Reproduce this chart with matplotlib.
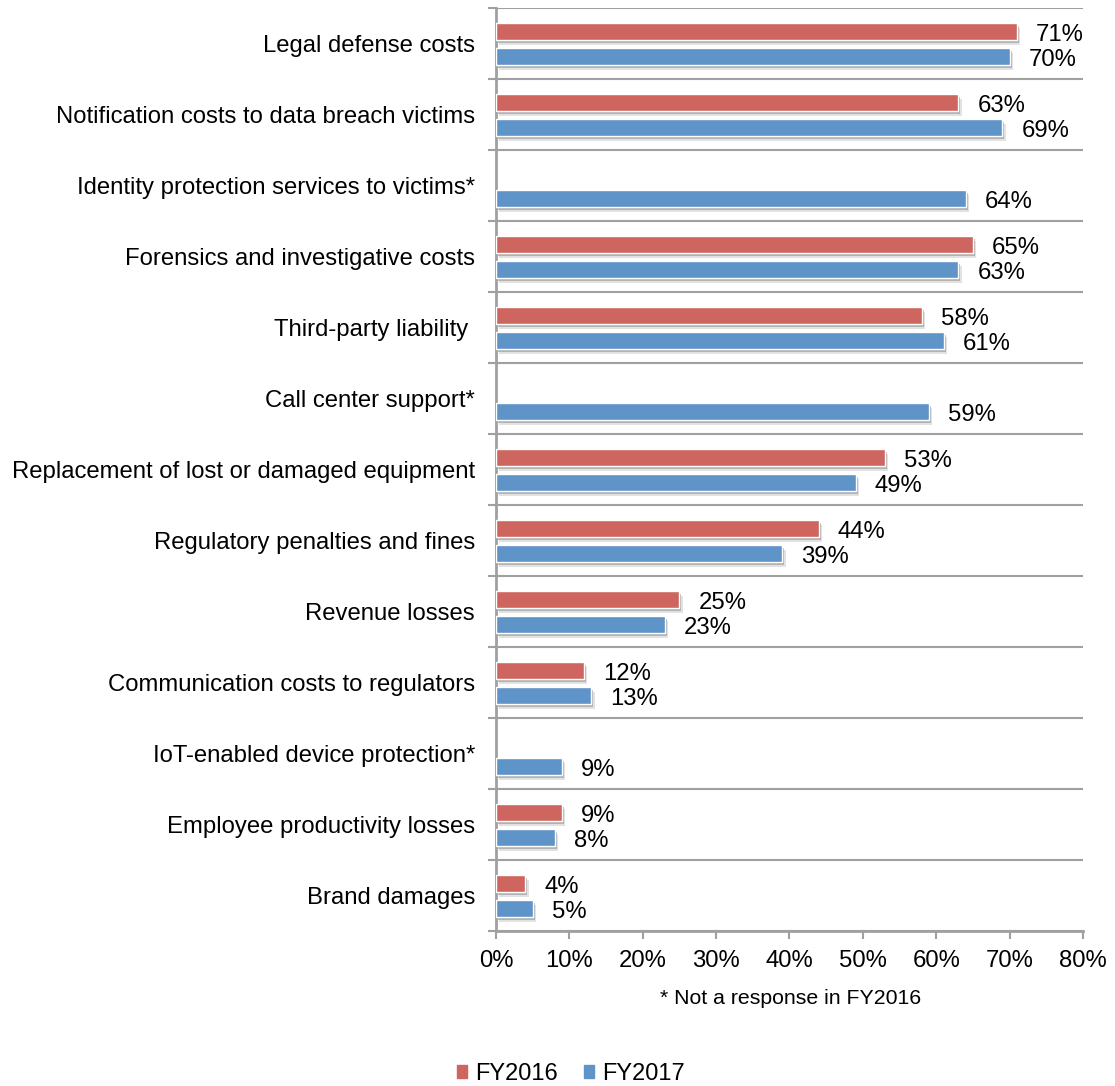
import matplotlib
matplotlib.use("Agg")
import matplotlib.pyplot as plt
import matplotlib.patheffects as pe
import numpy as np

plt.rcParams["font.family"] = ["Liberation Sans", "DejaVu Sans"]

categories = [
    "Legal defense costs",
    "Notification costs to data breach victims",
    "Identity protection services to victims*",
    "Forensics and investigative costs",
    "Third-party liability ",
    "Call center support*",
    "Replacement of lost or damaged equipment",
    "Regulatory penalties and fines",
    "Revenue losses",
    "Communication costs to regulators",
    "IoT-enabled device protection*",
    "Employee productivity losses",
    "Brand damages",
]
fy2016 = [71, 63, None, 65, 58, None, 53, 44, 25, 12, None, 9, 4]
fy2017 = [70, 69, 64, 63, 61, 59, 49, 39, 23, 13, 9, 8, 5]
xticks = [0, 10, 20, 30, 40, 50, 60, 70, 80]

RED = "#CE655F"
BLUE = "#5F94C9"
GRID = "#A0A0A0"
FS = 17.2

fig = plt.figure(figsize=(11.15, 10.86), dpi=100)
ax = fig.add_axes([0.4448, 0.1427, 0.5265, 0.8499])

y = np.arange(len(categories))
h = 0.24
off = 0.176
# two stacked soft shadows give the bars their drop-shadow look
shadow = [pe.SimplePatchShadow(offset=(1.5, -2.5), shadow_rgbFace="#7a7a7a", alpha=0.5),
          pe.SimplePatchShadow(offset=(2.5, -3.8), shadow_rgbFace="#a0a0a0", alpha=0.3),
          pe.Normal()]

for i, (a, b) in enumerate(zip(fy2016, fy2017)):
    if a is not None:
        ax.barh(y[i] - off, a, height=h, color=RED, edgecolor="white", linewidth=1,
                path_effects=shadow, zorder=3)
        ax.text(a + 2.6, y[i] - off + 0.05, f"{a}%", va="center", ha="left", fontsize=FS)
    ax.barh(y[i] + off, b, height=h, color=BLUE, edgecolor="white", linewidth=1,
            path_effects=shadow, zorder=3)
    ax.text(b + 2.6, y[i] + off + 0.06, f"{b}%", va="center", ha="left", fontsize=FS)

ax.set_xlim(0, 80)
ax.set_ylim(len(categories) - 0.5, -0.5)
ax.set_xticks(xticks)
ax.set_xticklabels([f"{t}%" for t in xticks], fontsize=FS)
ax.set_yticks(y)
ax.set_yticklabels(categories, fontsize=FS)
ax.set_yticks(np.arange(len(categories) + 1) - 0.5, minor=True)

ax.tick_params(axis="y", which="major", length=0, pad=15)
ax.tick_params(axis="y", which="minor", length=6, width=1.5, color=GRID, direction="out")
ax.tick_params(axis="x", length=6, width=1.5, color=GRID, direction="out", pad=8)
ax.grid(axis="y", which="minor", color=GRID, linewidth=1.5, zorder=0)

for s in ["top", "right"]:
    ax.spines[s].set_visible(False)
for s in ["left", "bottom"]:
    ax.spines[s].set_color(GRID)
    ax.spines[s].set_linewidth(2)

fig.text(791 / 1115, 1 - 998 / 1086, "* Not a response in FY2016", ha="center", va="center", fontsize=15.3)

handles = [plt.Rectangle((0, 0), 1, 1, color=RED), plt.Rectangle((0, 0), 1, 1, color=BLUE)]
fig.legend(handles, ["FY2016", "FY2017"], loc="center", bbox_to_anchor=(571 / 1115, 1 - 1074 / 1086),
           ncol=2, frameon=False, fontsize=17, handlelength=0.42, handleheight=0.42,
           handletextpad=0.34, columnspacing=1.1, borderpad=0.1)

fig.savefig("out.png", dpi=100)
